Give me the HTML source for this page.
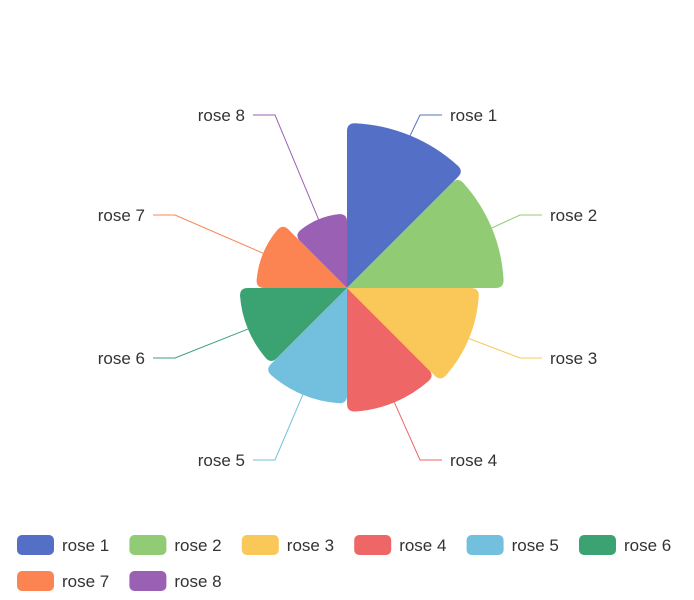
<!DOCTYPE html>
<html><head><meta charset="utf-8"><style>
body{margin:0;background:#fff;}
svg{display:block;font-family:"Liberation Sans",sans-serif;}
</style></head><body>
<svg id="chart" width="694" height="600" viewBox="0 0 694 600"></svg>
<script>
const categories = ["rose 1","rose 2","rose 3","rose 4","rose 5","rose 6","rose 7","rose 8"];
const values = [40,38,32,30,28,26,22,18];
const colors = ["#5470c6","#91cc75","#fac858","#ee6666","#73c0de","#3ba272","#fc8452","#9a60b4"];
const svg = document.getElementById('chart');
const NS = "http://www.w3.org/2000/svg";
const cx = 347, cy = 288, R = 165, cr = 8;
const maxV = Math.max(...values);
function rScale(v){ return v / maxV * R; }
function pt(r, a){ return [cx + r*Math.sin(a), cy - r*Math.cos(a)]; }
const step = 2*Math.PI / values.length;
values.forEach((v,i)=>{
  const r = rScale(v), a0 = i*step, a1 = (i+1)*step, d = cr/r;
  const p1 = pt(r-cr,a0), c1 = pt(r,a0), q1 = pt(r,a0+d);
  const q2 = pt(r,a1-d), c2 = pt(r,a1), p2 = pt(r-cr,a1);
  const path = document.createElementNS(NS,'path');
  path.setAttribute('d',`M${cx},${cy} L${p1} Q${c1} ${q1} A${r},${r} 0 0 1 ${q2} Q${c2} ${p2} Z`);
  path.setAttribute('fill',colors[i]);
  
  
  svg.appendChild(path);
  // label
  const am = (a0+a1)/2;
  const s = pt(r, am);
  const right = Math.sin(am) > 0;
  const top = Math.cos(am) > 0;
  const ly = Math.abs(Math.cos(am)) > 0.7 ? (top ? cy-173 : cy+172) : (top ? cy-73 : cy+70);
  const ex = right ? (Math.abs(Math.cos(am))>0.7 ? 420 : 520) : (Math.abs(Math.cos(am))>0.7 ? 275 : 175);
  const fx = right ? ex+22 : ex-22;
  const line = document.createElementNS(NS,'polyline');
  line.setAttribute('points',`${s} ${ex},${ly} ${fx},${ly}`);
  line.setAttribute('fill','none');
  line.setAttribute('stroke',colors[i]);
  
  
  svg.appendChild(line);
  const t = document.createElementNS(NS,'text');
  t.setAttribute('x', right ? fx+8 : fx-8);
  t.setAttribute('y', ly+6);
  t.setAttribute('text-anchor', right ? 'start':'end');
  t.setAttribute('font-size','17');
  t.setAttribute('fill','#333');
  t.textContent = categories[i];
  
  
  svg.appendChild(t);
});
// legend
categories.forEach((c,i)=>{
  const col = i%6, row = Math.floor(i/6);
  const x = 17 + col*112.4, y = 535 + row*36;
  const g = document.createElementNS(NS,'g');
  
  
  const rc = document.createElementNS(NS,'rect');
  rc.setAttribute('x',x); rc.setAttribute('y',y); rc.setAttribute('width',37); rc.setAttribute('height',20);
  rc.setAttribute('rx',5); rc.setAttribute('fill',colors[i]);
  g.appendChild(rc);
  const t = document.createElementNS(NS,'text');
  t.setAttribute('x',x+45); t.setAttribute('y',y+16);
  t.setAttribute('font-size','17'); t.setAttribute('fill','#333');
  t.textContent = c;
  g.appendChild(t);
  svg.appendChild(g);
});
</script>
</body></html>
